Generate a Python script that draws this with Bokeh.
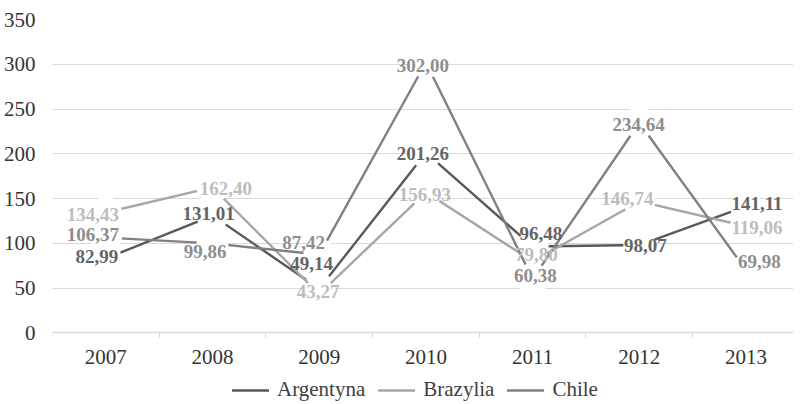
from bokeh.plotting import figure
from bokeh.models import Range1d, FixedTicker, Legend, LegendItem, ColumnDataSource
from bokeh.core.properties import value
from bokeh.embed import file_html
from bokeh.resources import INLINE

years = ["2007", "2008", "2009", "2010", "2011", "2012", "2013"]
argentyna = [82.99, 131.01, 49.14, 201.26, 96.48, 98.07, 141.11]
brazylia = [134.43, 162.40, 43.27, 156.93, 79.80, 146.74, 119.06]
chile = [106.37, 99.86, 87.42, 302.00, 60.38, 234.64, 69.98]
y_ticks = [0, 50, 100, 150, 200, 250, 300, 350]

# label nudges in screen px (style only)
arg_dx = [-9, -4, -7.6, -3, 8.2, 6, 11]
arg_dy = [-2, -2, -25.6, 1.3, -13.2, 0, -3]
bra_dx = [-13, 13.4, -1, -1, 3.7, -12, 11]
bra_dy = [1.8, 1.2, -2.6, 2, -6.4, -2.8, 1]
chi_dx = [-13, -7.4, -15.6, -3, 2.8, -0.7, 13.3]
chi_dy = [-3, 7.8, -12, 3, -3.5, 1.7, -9]

FONT = "Liberation Serif"
xs = [i + 0.5 for i in range(len(years))]

H = 402
TOP = 19
PX_PER_UNIT = 313.3 / 350
y_start = 350 - (H - TOP) / PX_PER_UNIT

# frame runs to the bottom edge; the category axis sits at value 0
p = figure(width=793, height=H, output_backend="svg", toolbar_location=None,
           x_range=Range1d(0, 6.945), y_range=Range1d(y_start, 350),
           min_border_left=45, min_border_right=0, min_border_top=TOP, min_border_bottom=0)
p.outline_line_color = None
p.background_fill_color = "white"
p.border_fill_color = "white"

p.xgrid.grid_line_color = None
p.ygrid.grid_line_color = "#D9D9D9"
p.ygrid.grid_line_width = 1
p.yaxis.ticker = FixedTicker(ticks=y_ticks)
p.yaxis.axis_line_color = None
p.yaxis.major_tick_line_color = None
p.yaxis.minor_tick_line_color = None
p.yaxis.major_label_standoff = 11
p.yaxis.major_label_text_font = FONT
p.yaxis.major_label_text_font_size = "21px"
p.yaxis.major_label_text_color = "#333333"

p.xaxis.fixed_location = 0
p.xaxis.ticker = FixedTicker(ticks=xs, minor_ticks=list(range(len(years) + 1)))
p.xaxis.major_label_overrides = {x: y for x, y in zip(xs, years)}
p.xaxis.axis_line_color = "#D9D9D9"
p.xaxis.axis_line_width = 1.5
p.xaxis.major_tick_line_color = None
p.xaxis.major_tick_out = 0
p.xaxis.major_tick_in = 0
p.xaxis.minor_tick_line_color = "#D9D9D9"
p.xaxis.minor_tick_out = 5
p.xaxis.minor_tick_in = 0
p.xaxis.major_label_standoff = 12
p.xaxis.major_label_text_font = FONT
p.xaxis.major_label_text_font_size = "21px"
p.xaxis.major_label_text_color = "#333333"

series = [
    ("Argentyna", argentyna, "#595959", "#646464", arg_dx, arg_dy),
    ("Brazylia", brazylia, "#A6A6A6", "#BDBDBD", bra_dx, bra_dy),
    ("Chile", chile, "#808080", "#8E8E8E", chi_dx, chi_dy),
]

items = []
for name, vals, lc, tc, dx, dy in series:
    r = p.line(xs, vals, line_color=lc, line_width=2.4, line_join="round", line_cap="round")
    p.scatter(xs, vals, size=32, fill_color="white", line_color=None)
    items.append(LegendItem(label=name, renderers=[r]))

for name, vals, lc, tc, dx, dy in series:
    src = ColumnDataSource(dict(x=xs, y=vals,
                                t=[f"{v:.2f}".replace(".", ",") for v in vals],
                                dx=dx, dy=dy))
    p.text(x="x", y="y", text="t", x_offset="dx", y_offset="dy", source=src,
           text_font=value(FONT), text_font_size="19px", text_font_style="bold",
           text_color=tc, text_align="center", text_baseline="middle")

legend = Legend(items=items, orientation="horizontal", location=(180, 0),
                glyph_width=37, glyph_height=20, label_standoff=8, spacing=13,
                padding=0, margin=0, border_line_color=None, background_fill_alpha=0,
                label_text_font=FONT, label_text_font_size="21px", label_text_color="#404040")
p.add_layout(legend, "center")

open("out.html", "w").write(file_html(p, INLINE))
